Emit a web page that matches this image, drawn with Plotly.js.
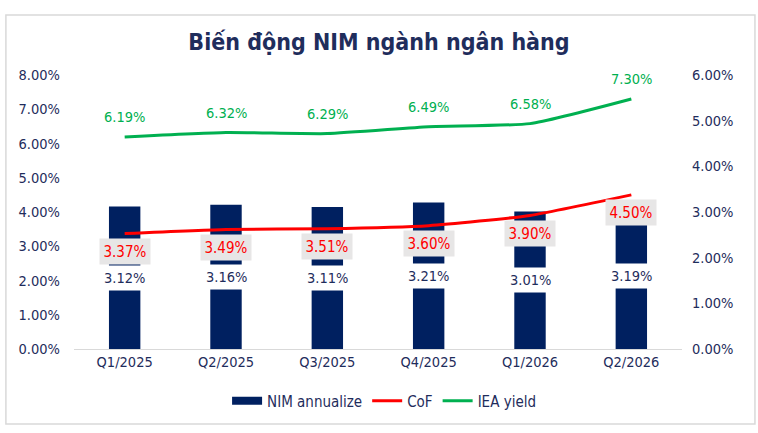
<!DOCTYPE html>
<html>
<head>
<meta charset="utf-8">
<script src="https://cdn.plot.ly/plotly-3.0.1.min.js"></script>
<style>
  html, body { margin: 0; padding: 0; background: #ffffff; }
  #chart { width: 758px; height: 433px; }
</style>
</head>
<body>
<div id="chart"></div>
<script>
// data (percent)
var quarters = ['Q1/2025', 'Q2/2025', 'Q3/2025', 'Q4/2025', 'Q1/2026', 'Q2/2026'];
var nimAnnualize = [3.12, 3.16, 3.11, 3.21, 3.01, 3.19];
var cof = [3.37, 3.49, 3.51, 3.60, 3.90, 4.50];
var ieaYield = [6.19, 6.32, 6.29, 6.49, 6.58, 7.30];

var navy = '#002060';
var txt = '#1F2D5C';
var red = '#FF0000';
var green = '#00B050';
var fontFam = '"DejaVu Sans Condensed", "DejaVu Sans", sans-serif';

function pct(v) { return v.toFixed(2) + '%'; }

// bars sit on the primary (right) axis so the lines on y2 draw over them
var bars = {
	x: quarters,
	y: nimAnnualize,
	name: 'NIM annualize',
	type: 'bar',
	yaxis: 'y',
	width: 0.31,
	marker: { color: navy },
	showlegend: false,
	hoverinfo: 'x+y'
};

// legend entry only: wide flat swatch like the Excel one
var barKey = {
	x: [null],
	y: [null],
	name: 'NIM annualize',
	type: 'scatter',
	mode: 'lines',
	yaxis: 'y',
	line: { color: navy, width: 8 }
};

var cofLine = {
	x: quarters,
	y: cof,
	name: 'CoF',
	type: 'scatter',
	mode: 'lines',
	yaxis: 'y2',
	line: { color: red, width: 3, shape: 'spline', smoothing: 0.5 }
};

var ieaLine = {
	x: quarters,
	y: ieaYield,
	name: 'IEA yield',
	type: 'scatter',
	mode: 'lines',
	yaxis: 'y2',
	line: { color: green, width: 3, shape: 'spline', smoothing: 0.5 }
};

var notes = [];

// bar labels: middle of the bar, white box
for (let i = 0; i < quarters.length; i++) {
	notes.push({
		x: quarters[i], y: nimAnnualize[i] / 2, xref: 'x', yref: 'y',
		text: pct(nimAnnualize[i]), showarrow: false,
		font: { family: fontFam, size: 14.5, color: txt },
		bgcolor: '#ffffff', borderpad: 4
	});
}
// CoF labels: below the point, grey box
for (let i = 0; i < quarters.length; i++) {
	notes.push({
		x: quarters[i], y: cof[i], xref: 'x', yref: 'y2',
		text: pct(cof[i]), showarrow: false,
		font: { family: fontFam, size: 15, color: red },
		bgcolor: '#E7E6E6', borderpad: 3.5, yshift: -18
	});
}
// IEA labels: above the point
for (let i = 0; i < quarters.length; i++) {
	notes.push({
		x: quarters[i], y: ieaYield[i], xref: 'x', yref: 'y2',
		text: pct(ieaYield[i]), showarrow: false,
		font: { family: fontFam, size: 14.5, color: green },
		yshift: 20
	});
}

var layout = {
	width: 758,
	height: 433,
	margin: { t: 75, b: 84, l: 74, r: 76 },
	paper_bgcolor: '#ffffff',
	plot_bgcolor: 'rgba(0,0,0,0)',
	font: { family: fontFam, size: 14, color: txt },
	title: {
		text: '<b>Biến động NIM ngành ngân hàng</b>',
		font: { family: fontFam, size: 23, color: txt },
		x: 0.5, xanchor: 'center',
		y: 0.903, yanchor: 'middle', yref: 'container'
	},
	showlegend: true,
	legend: {
		orientation: 'h',
		x: 0.51, xanchor: 'center',
		y: -0.19, yanchor: 'middle',
		font: { family: fontFam, size: 15, color: txt },
		traceorder: 'normal'
	},
	xaxis: {
		type: 'category',
		showgrid: false,
		zeroline: false,
		showline: true,
		linecolor: '#D9D9D9',
		linewidth: 1,
		ticks: '',
		tickfont: { family: fontFam, size: 14.5, color: txt }
	},
	yaxis: {
		side: 'right',
		range: [0, 6],
		dtick: 1,
		tickformat: '.2f',
		ticksuffix: '%',
		showgrid: false,
		zeroline: false,
		showline: false,
		ticks: '',
		ticklabelstandoff: 9,
		tickfont: { family: fontFam, size: 14.5, color: txt }
	},
	yaxis2: {
		overlaying: 'y',
		side: 'left',
		range: [0, 8],
		dtick: 1,
		tickformat: '.2f',
		ticksuffix: '%',
		showgrid: false,
		zeroline: false,
		showline: false,
		ticks: '',
		ticklabelstandoff: 13,
		tickfont: { family: fontFam, size: 14.5, color: txt }
	},
	annotations: notes,
	shapes: [{
		type: 'rect', xref: 'paper', yref: 'paper',
		x0: -0.112, x1: 1.120, y0: -0.274, y1: 1.219,
		line: { color: '#D9D9D9', width: 1.5 },
		fillcolor: 'rgba(0,0,0,0)',
		layer: 'below'
	}]
};

Plotly.newPlot('chart', [bars, barKey, cofLine, ieaLine], layout, { displayModeBar: false, staticPlot: true });
</script>
</body>
</html>
